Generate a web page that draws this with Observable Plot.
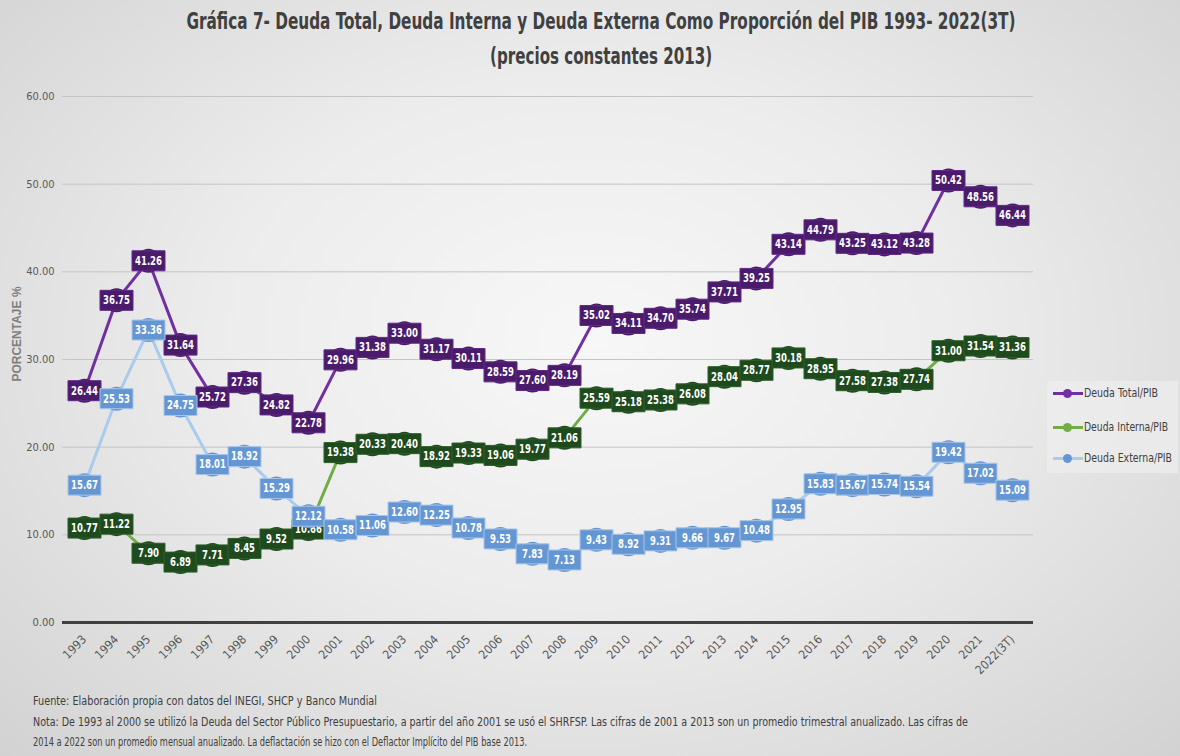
<!DOCTYPE html>
<html>
<head>
<meta charset="utf-8">
<script src="https://cdn.jsdelivr.net/npm/d3@7"></script>
<script src="https://cdn.jsdelivr.net/npm/@observablehq/plot@0.6"></script>
<style>
  html, body { margin: 0; padding: 0; }
  body {
    width: 1180px; height: 756px; overflow: hidden; position: relative;
    background: radial-gradient(ellipse at 50% 45%, #f7f7f7 0%, #ececec 45%, #d2d2d2 100%);
    font-family: "DejaVu Sans Condensed", "Liberation Sans", sans-serif;
    color: #404040;
  }
  #title { position: absolute; left: 0; top: 4px; width: 1202px; text-align: center; font-weight: bold; font-size: 23px; line-height: 35px; color: #404040; }
  #title span { display: inline-block; white-space: nowrap; transform-origin: 50% 50%; }
  #chart { position: absolute; left: 0; top: 80px; }
  #ylabel { position: absolute; left: 17px; top: 334px; transform: translate(-50%, -50%) rotate(-90deg); font-family: "Liberation Sans", sans-serif; font-weight: bold; font-size: 12px; color: #7f7f7f; white-space: nowrap; }
  #legend { position: absolute; left: 1047px; top: 381px; width: 131px; height: 92px; background: rgba(238,238,238,0.7); font-size: 12px; color: #404040; }
  .li { position: absolute; left: 6px; height: 16px; display: flex; align-items: center; white-space: nowrap; }
  .sw { position: relative; width: 30px; height: 3px; margin-right: 1px; }
  .sw span { position: absolute; left: 10px; top: -3px; width: 9px; height: 9px; border-radius: 50%; }
  .lt { display: inline-block; transform-origin: 0 50%; }
  #foot { position: absolute; left: 33px; top: 691px; font-size: 12.5px; line-height: 20.5px; color: #404040; }
  #foot div { white-space: nowrap; transform-origin: 0 50%; width: max-content; }
</style>
</head>
<body>
<div id="title"><span data-w="829">Gráfica 7- Deuda Total, Deuda Interna y Deuda Externa Como Proporción del PIB 1993- 2022(3T)</span><br><span data-w="222">(precios constantes 2013)</span></div>
<div id="chart"></div>
<div id="ylabel">PORCENTAJE %</div>
<div id="legend"></div>
<div id="foot"><div data-w="344">Fuente: Elaboración propia con datos del INEGI, SHCP y Banco Mundial</div><div data-w="935">Nota: De 1993 al 2000 se utilizó la Deuda del Sector Público Presupuestario, a partir del año 2001 se usó el SHRFSP. Las cifras de 2001 a 2013 son un promedio trimestral anualizado. Las cifras de</div><div data-w="494">2014 a 2022 son un promedio mensual anualizado. La deflactación se hizo con el Deflactor Implícito del PIB base 2013.</div></div>
<script>
const years = ["1993","1994","1995","1996","1997","1998","1999","2000","2001","2002","2003","2004","2005","2006","2007","2008","2009","2010","2011","2012","2013","2014","2015","2016","2017","2018","2019","2020","2021","2022(3T)"];
const deudaTotal = [26.44,36.75,41.26,31.64,25.72,27.36,24.82,22.78,29.96,31.38,33.00,31.17,30.11,28.59,27.60,28.19,35.02,34.11,34.70,35.74,37.71,39.25,43.14,44.79,43.25,43.12,43.28,50.42,48.56,46.44];
const deudaInterna = [10.77,11.22,7.90,6.89,7.71,8.45,9.52,10.66,19.38,20.33,20.40,18.92,19.33,19.06,19.77,21.06,25.59,25.18,25.38,26.08,28.04,28.77,30.18,28.95,27.58,27.38,27.74,31.00,31.54,31.36];
const deudaExterna = [15.67,25.53,33.36,24.75,18.01,18.92,15.29,12.12,10.58,11.06,12.60,12.25,10.78,9.53,7.83,7.13,9.43,8.92,9.31,9.66,9.67,10.48,12.95,15.83,15.67,15.74,15.54,19.42,17.02,15.09];
const seriesNames = ["Deuda Total/PIB","Deuda Interna/PIB","Deuda Externa/PIB"];
const yTicks = [0,10,20,30,40,50,60];

const styles = [
  {line: "#7030a0", box: "#4b1b6b", edge: "#5e2a85"},
  {line: "#70ad47", box: "#1e4a1e", edge: "#2e5e2a"},
  {line: "#a9cbec", box: "#6596d4", edge: "#a7c6ea"}
];
const values = [deudaTotal, deudaInterna, deudaExterna];
const tables = values.map((vals, i) => years.map((year, j) => ({year, value: vals[j], series: seriesNames[i]})));

const boxSymbol = {draw(ctx) { ctx.rect(-16.5, -10, 33, 20); }};

const marks = [
  Plot.ruleY(yTicks.filter(d => d > 0), {y: d => d, stroke: "#c4c4c4", strokeWidth: 1}),
  Plot.ruleY([0], {stroke: "#404040", strokeWidth: 3})
];
tables.forEach((t, i) => {
  marks.push(Plot.line(t, {x: "year", y: "value", stroke: styles[i].line, strokeWidth: 3}));
});
tables.forEach((t, i) => {
  marks.push(Plot.dot(t, {x: "year", y: "value", r: 12, fill: styles[i].box}));
  marks.push(Plot.dot(t, {x: "year", y: "value", symbol: boxSymbol, fill: styles[i].box, stroke: styles[i].edge, strokeWidth: 1}));
  marks.push(Plot.text(t, {x: "year", y: "value", text: d => d.value.toFixed(2), fill: "white", fontSize: 12, fontWeight: "bold", className: "dlabel"}));
});

const chart = Plot.plot({
  width: 1060,
  height: 600,
  marginLeft: 62,
  marginRight: 27,
  marginTop: 16,
  marginBottom: 58,
  style: {background: "transparent", fontSize: "11px", color: "#595959", fontFamily: "DejaVu Sans Condensed, sans-serif"},
  x: {type: "point", domain: years, range: [78, 1017], padding: 0, tickRotate: -45, tickSize: 0, tickPadding: 15, label: null},
  y: {domain: [0, 60], ticks: yTicks, tickFormat: d3.format(".2f"), tickSize: 0, tickPadding: 8, label: null},
  marks
});
document.getElementById("chart").appendChild(chart);

// narrow the data labels to the reference's condensed face
d3.select(chart).selectAll("g.dlabel text").each(function() {
  const s = this.textContent;
  this.setAttribute("textLength", s.length >= 5 ? 27 : 21);
  this.setAttribute("lengthAdjust", "spacingAndGlyphs");
});
d3.select(chart).selectAll("g[aria-label^='x-axis'] text").attr("font-size", 12);

const legend = document.getElementById("legend");
seriesNames.forEach((name, i) => {
  const row = document.createElement("div");
  row.className = "li";
  row.style.top = (4 + [0, 34, 65][i]) + "px";
  row.innerHTML = `<div class="sw" style="background:${styles[i].line}"><span style="background:${i === 2 ? styles[i].box : styles[i].line}"></span></div><span class="lt" data-w="${[74, 84, 88][i]}">${name}</span>`;
  legend.appendChild(row);
});

document.querySelectorAll("[data-w]").forEach(el => {
  const w = el.getBoundingClientRect().width;
  const target = +el.dataset.w;
  el.style.transform = `scaleX(${target / w})`;
});
</script>
</body>
</html>
